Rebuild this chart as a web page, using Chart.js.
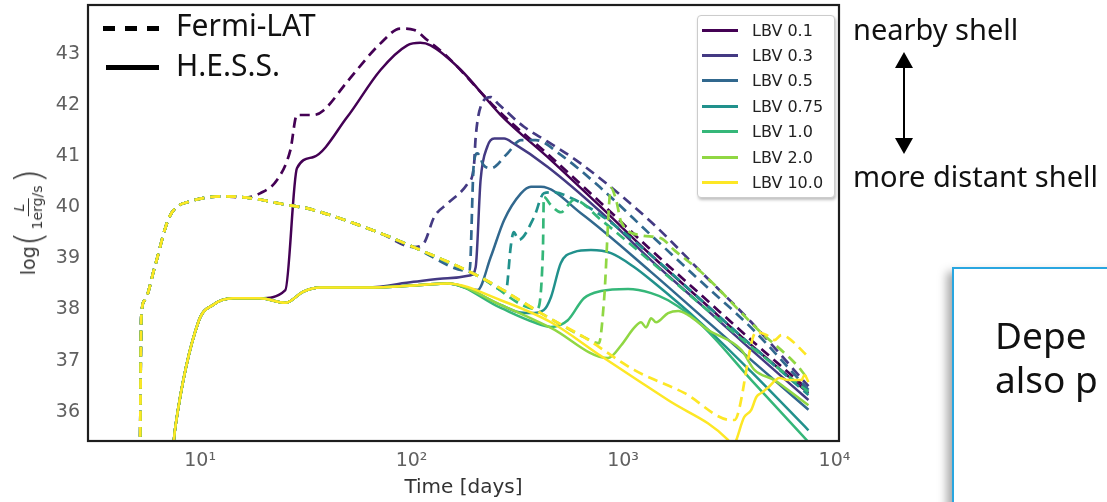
<!DOCTYPE html>
<html>
<head>
<meta charset="utf-8">
<script src="https://cdn.jsdelivr.net/npm/chart.js@4.4.1/dist/chart.umd.min.js"></script>
<style>
  html, body { margin: 0; padding: 0; background: #fff; }
  #wrap { position: relative; width: 1107px; height: 502px; overflow: hidden; }
  #chart { position: absolute; left: 0; top: 0; }
  .ov { position: absolute; white-space: nowrap; }
  .slide { font-family: 'Noto Sans', sans-serif; color: #111; }
  #ylab { left: 28px; top: 222px; transform: translate(-50%, -50%) rotate(-90deg);
          font-family: 'DejaVu Sans', sans-serif; font-size: 19px; color: #333;
          display: flex; align-items: center; }
  #ylab .par { font-size: 38px; line-height: 1; font-weight: 300; }
  #ylab .frac { display: inline-flex; flex-direction: column; align-items: center; font-size: 14px; line-height: 1.15; margin: 0 2px; }
  #ylab .num { border-bottom: 1px solid #333; padding: 0 5px; font-style: italic; }
  #lbvLegend { left: 697px; top: 15px; width: 136px; height: 181px; border: 1px solid #ccc;
               border-radius: 4px; background: #fff; box-shadow: 1px 2px 3px rgba(0,0,0,0.25);
               font-family: 'DejaVu Sans', sans-serif; font-size: 16px; color: #222; }
  #lbvLegend .item { position: absolute; left: 0; height: 20px; display: flex; align-items: center; }
  #lbvLegend .sw { width: 36px; height: 3px; margin-left: 4px; margin-right: 14px; }
  #note { left: 952px; top: 267px; width: 220px; height: 260px; border: 2px solid #29a6e0; background: #fff;
          box-shadow: -5px 5px 9px rgba(0,0,0,0.35); box-sizing: border-box; padding: 44px 0 0 41px;
          font-size: 37px; line-height: 44px; }
</style>
</head>
<body>
<div id="wrap">
  <canvas id="chart" width="1107" height="502"></canvas>

  <div id="ylab" class="ov"><span>log</span><span class="par">(</span><span class="frac"><span class="num">L</span><span>1erg/s</span></span><span class="par">)</span></div>

  <!-- instrument legend (line styles) -->
  <div class="ov" style="left:103px;top:26px;width:12px;height:5px;background:#000"></div>
  <div class="ov" style="left:125px;top:26px;width:12px;height:5px;background:#000"></div>
  <div class="ov" style="left:147px;top:26px;width:12px;height:5px;background:#000"></div>
  <div class="ov" style="left:106px;top:65px;width:53px;height:5px;background:#000"></div>
  <div class="ov slide" style="left:176px;top:6px;font-size:30px;line-height:38px">Fermi-LAT</div>
  <div class="ov slide" style="left:176px;top:46px;font-size:30px;line-height:38px">H.E.S.S.</div>

  <div id="lbvLegend" class="ov"></div>

  <div class="ov slide" style="left:853px;top:11px;font-size:29px;line-height:36px">nearby shell</div>
  <svg class="ov" style="left:894px;top:50px" width="20" height="106">
    <line x1="10" y1="14" x2="10" y2="92" stroke="#000" stroke-width="2"/>
    <polygon points="10,2 1,18 19,18" fill="#000"/>
    <polygon points="10,104 1,88 19,88" fill="#000"/>
  </svg>
  <div class="ov slide" style="left:853px;top:158px;font-size:29px;line-height:36px">more distant shell</div>

  <div id="note" class="ov slide">Depe<br>also p</div>
</div>

<script>
const TIME_TICKS = [10, 100, 1000, 10000];
const TIME_LABELS = ['10¹', '10²', '10³', '10⁴'];
const LUM_TICKS = [36, 37, 38, 39, 40, 41, 42, 43];
const LBV_LABELS = ['LBV 0.1', 'LBV 0.3', 'LBV 0.5', 'LBV 0.75', 'LBV 1.0', 'LBV 2.0', 'LBV 10.0'];
const LBV_COLORS = ['#440154', '#443a83', '#31688e', '#21918c', '#35b779', '#90d743', '#fde725'];

// Fermi-LAT curves (dashed), [days, log L]
const fermi01 = [[5.2,35.2],[5.27,37.86],[5.47,38.18],[6.1,38.83],[7.05,39.75],[7.59,39.97],[8.77,40.10],[12.6,40.21],[16.3,40.19],
  [19.2,40.27],[23.1,40.53],[26.7,41.11],[28.7,41.80],[34.4,41.80],[38.3,41.89],[49.6,42.45],[71.3,43.20],[88.6,43.49],
  [103,43.46],[119,43.26],[145,42.97],[264,41.84],[456,40.98],[787,40.08],[1358,39.16],[2344,38.28],[4044,37.40],[7530,36.43]];
const fermi03 = [[5.2,35.2],[5.27,37.86],[5.47,38.18],[6.1,38.83],[7.05,39.75],[7.59,39.97],[8.77,40.10],[12.6,40.21],[16.3,40.19],
  [26.1,40.04],[32.5,39.97],[71.3,39.49],[102,39.22],[114,39.29],[128,39.81],[148,40.07],[184,40.46],[197,40.79],[201,41.37],
  [212,41.96],[237,42.15],[255,42.03],[340,41.57],[440,41.28],[632,40.85],[1358,39.71],[2344,38.73],[4044,37.75],[7530,36.50]];
const fermi05 = [[5.2,35.2],[5.27,37.86],[5.47,38.18],[6.1,38.83],[7.05,39.75],[7.59,39.97],[8.77,40.10],[12.6,40.21],[16.3,40.19],
  [26.1,40.04],[32.5,39.97],[71.3,39.49],[102,39.22],[188,38.75],[197,40.86],[205,41.05],[219,40.82],[237,40.76],[284,41.05],
  [329,41.31],[387,41.31],[508,41.02],[787,40.37],[1358,39.45],[2344,38.54],[4044,37.64],[7530,36.43]];
const fermi075 = [[5.2,35.2],[5.27,37.86],[5.47,38.18],[6.1,38.83],[7.05,39.75],[7.59,39.97],[8.77,40.10],[12.6,40.21],[16.3,40.19],
  [26.1,40.04],[32.5,39.97],[71.3,39.49],[102,39.22],[212,38.63],[279,38.36],[295,39.26],[304,39.51],[321,39.36],[379,39.80],
  [422,40.27],[471,40.29],[567,40.18],[787,39.84],[1358,39.06],[2344,38.18],[4044,37.30],[7530,36.33]];
const fermi10 = [[5.2,35.2],[5.27,37.86],[5.47,38.18],[6.1,38.83],[7.05,39.75],[7.59,39.97],[8.77,40.10],[12.6,40.21],[16.3,40.19],
  [26.1,40.04],[32.5,39.97],[71.3,39.49],[102,39.22],[212,38.63],[391,38.01],[418,39.16],[422,40.20],[456,40.04],[508,39.90],
  [586,40.14],[787,39.75],[1358,38.93],[2344,38.09],[4044,37.27],[7530,36.39]];
const fermi20 = [[5.2,35.2],[5.27,37.86],[5.47,38.18],[6.1,38.83],[7.05,39.75],[7.59,39.97],[8.77,40.10],[12.6,40.21],[16.3,40.19],
  [26.1,40.04],[32.5,39.97],[71.3,39.49],[102,39.22],[212,38.63],[441,37.85],[653,37.46],[769,37.34],[813,38.18],[877,40.37],
  [927,40.14],[980,39.71],[1216,39.45],[1513,39.39],[1746,39.16],[2344,38.73],[4365,37.60],[6745,36.88],[7530,36.62]];
const fermi100 = [[5.2,35.2],[5.27,37.86],[5.47,38.18],[6.1,38.83],[7.05,39.75],[7.59,39.97],[8.77,40.10],[12.6,40.21],[16.3,40.19],
  [26.1,40.04],[32.5,39.97],[71.3,39.49],[102,39.22],[212,38.63],[441,37.85],[653,37.46],[1127,36.82],[1945,36.37],[3250,35.84],
  [3360,35.84],[4266,37.56],[4760,37.50],[5200,37.40],[5610,37.50],[6060,37.44],[7530,37.07]];

// H.E.S.S. curves (solid), [days, log L]
const hess01 = [[7.45,35.3],[7.64,35.71],[9.82,37.76],[11.5,38.09],[14.3,38.22],[19.2,38.22],[25.3,38.38],[28.7,40.76],[34.4,40.98],
  [49.6,41.76],[71.3,42.68],[95.4,43.16],[110,43.21],[123,43.16],[171,42.68],[264,41.80],[456,40.92],[787,40.00],[1358,39.06],
  [2344,38.18],[4044,37.30],[7530,36.37]];
const hess03 = [[7.45,35.3],[7.64,35.71],[9.82,37.76],[11.5,38.09],[14.3,38.22],[19.2,38.22],[25.3,38.13],[30.8,38.35],[37.0,38.43],
  [61.7,38.43],[102,38.54],[148,38.61],[191,38.67],[201,38.83],[212,40.53],[228,41.18],[246,41.34],[274,41.34],[305,41.24],
  [439,40.79],[787,39.90],[1358,38.96],[2344,38.09],[4044,37.21],[7530,36.23]];
const hess05 = [[7.45,35.3],[7.64,35.71],[9.82,37.76],[11.5,38.09],[14.3,38.22],[19.2,38.22],[25.3,38.13],[30.8,38.35],[37.0,38.43],
  [61.7,38.43],[110,38.48],[148,38.51],[205,38.38],[237,39.03],[274,39.75],[329,40.27],[367,40.40],[409,40.40],[632,39.88],
  [1358,38.73],[2344,37.87],[4044,37.01],[7530,36.04]];
const hess075 = [[7.45,35.3],[7.64,35.71],[9.82,37.76],[11.5,38.09],[14.3,38.22],[19.2,38.22],[25.3,38.13],[30.8,38.35],[37.0,38.43],
  [61.7,38.43],[110,38.48],[148,38.51],[264,38.09],[318,37.95],[367,37.93],[422,37.99],[456,38.24],[508,38.91],[586,39.12],
  [705,39.16],[877,39.10],[1127,38.83],[1358,38.57],[2344,37.73],[4044,36.78],[7530,35.64]];
const hess10 = [[7.45,35.3],[7.64,35.71],[9.82,37.76],[11.5,38.09],[14.3,38.22],[19.2,38.22],[25.3,38.13],[30.8,38.35],[37.0,38.43],
  [61.7,38.43],[110,38.48],[148,38.51],[264,38.03],[379,37.75],[456,37.66],[548,37.79],[653,38.22],[787,38.36],[1056,38.40],
  [1358,38.32],[1633,38.18],[2344,37.70],[4044,36.62],[7530,35.41]];
const hess20 = [[7.45,35.3],[7.64,35.71],[9.82,37.76],[11.5,38.09],[14.3,38.22],[19.2,38.22],[25.3,38.13],[30.8,38.35],[37.0,38.43],
  [61.7,38.43],[110,38.48],[148,38.51],[264,38.09],[456,37.64],[849,37.05],[980,37.30],[1127,37.64],[1216,37.75],[1285,37.65],
  [1358,37.83],[1433,37.75],[1633,37.93],[1823,37.97],[2033,37.89],[2531,37.60],[3624,37.21],[4181,36.82],[5200,36.62],
  [5795,36.48],[7530,36.13]];
const hess100 = [[7.45,35.3],[7.64,35.71],[9.82,37.76],[11.5,38.09],[14.3,38.22],[19.2,38.22],[25.3,38.13],[30.8,38.35],[37.0,38.43],
  [61.7,38.43],[110,38.48],[148,38.51],[264,38.18],[456,37.75],[787,37.09],[1630,36.23],[3135,35.45],[3285,35.33],[3745,35.90],
  [4040,36.04],[4270,36.29],[4510,36.37],[4870,36.48],[5490,36.66],[6050,36.62],[6980,36.62],[7210,36.72],[7530,36.58]];

const FERMI = [fermi01, fermi03, fermi05, fermi075, fermi10, fermi20, fermi100];
const HESS = [hess01, hess03, hess05, hess075, hess10, hess20, hess100];

const toXY = pts => pts.map(p => ({ x: p[0], y: p[1] }));

// Build colour legend
const lbvLegend = document.getElementById('lbvLegend');
LBV_LABELS.forEach((name, i) => {
  const item = document.createElement('div');
  item.className = 'item';
  item.style.top = (4 + i * 25.4) + 'px';
  item.innerHTML = `<span class="sw" style="background:${LBV_COLORS[i]}"></span><span>${name}</span>`;
  lbvLegend.appendChild(item);
});

const datasets = [];
LBV_LABELS.forEach((name, i) => {
  datasets.push({
    label: name + ' Fermi-LAT', data: toXY(FERMI[i]), borderColor: LBV_COLORS[i],
    borderWidth: 2.7, borderDash: [10, 6], order: 20 - 2 * i
  });
  datasets.push({
    label: name + ' H.E.S.S.', data: toXY(HESS[i]), borderColor: LBV_COLORS[i],
    borderWidth: 2.5, order: 19 - 2 * i
  });
});

const frame = {
  id: 'frame',
  afterDatasetsDraw(chart) {
    const a = chart.chartArea, ctx = chart.ctx;
    ctx.save();
    ctx.strokeStyle = '#1e1e1e';
    ctx.lineWidth = 2.2;
    ctx.strokeRect(a.left, a.top, a.right - a.left, a.bottom - a.top);
    ctx.restore();
  }
};

// keep the plot box where the reference has it (no extra room for half tick labels)
const noEdgePadding = s => { s.paddingTop = 0; s.paddingBottom = 0; };

Chart.defaults.font.family = "'DejaVu Sans', sans-serif";

new Chart(document.getElementById('chart'), {
  type: 'line',
  data: { datasets },
  plugins: [frame],
  options: {
    responsive: false,
    animation: false,
    layout: { padding: { left: 0, right: 268, top: 5, bottom: 0 } },
    elements: {
      point: { radius: 0 },
      line: { fill: false, cubicInterpolationMode: 'monotone', borderCapStyle: 'butt' }
    },
    plugins: { legend: { display: false }, tooltip: { enabled: false } },
    scales: {
      x: {
        type: 'logarithmic', min: 2.95, max: 10500,
        afterBuildTicks: s => { s.ticks = TIME_TICKS.map(v => ({ value: v })); },
        afterFit: s => { s.height = 61; s.paddingLeft = 0; },
        ticks: {
          callback: v => TIME_LABELS[TIME_TICKS.indexOf(v)] || '',
          color: '#606060', font: { size: 19 }, padding: 9, maxRotation: 0, autoSkip: false
        },
        grid: { display: false, drawTicks: false },
        border: { display: false },
        title: { display: true, text: 'Time [days]', color: '#333', font: { size: 20 }, padding: { top: 0, bottom: 2 } }
      },
      y: {
        type: 'linear', min: 35.43, max: 43.95,
        afterBuildTicks: s => { s.ticks = LUM_TICKS.map(v => ({ value: v })); },
        afterFit: s => { s.width = 88; noEdgePadding(s); },
        ticks: { color: '#606060', font: { size: 19 }, padding: 8 },
        grid: { display: false, drawTicks: false },
        border: { display: false }
      }
    }
  }
});
</script>
</body>
</html>
